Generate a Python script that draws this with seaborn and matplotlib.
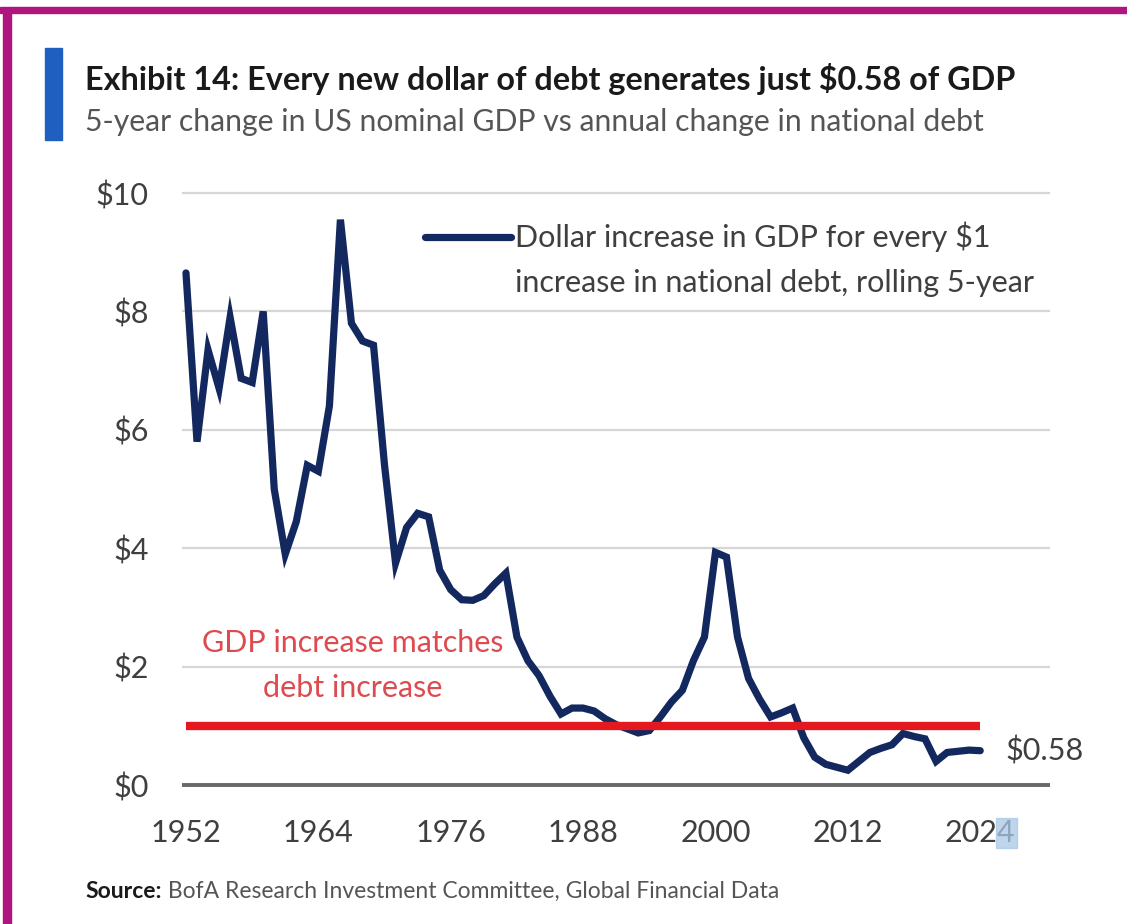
import matplotlib

matplotlib.use("Agg")

import matplotlib.pyplot as plt
import pandas as pd
import seaborn as sns
from matplotlib.lines import Line2D
from matplotlib.patches import Rectangle

# data
years = list(range(1952, 2025))
gdp_per_debt_dollar = [
    8.65, 5.80, 7.35, 6.70, 7.90, 6.87, 6.80, 8.00,
    5.00, 3.90, 4.45, 5.40, 5.30, 6.40, 9.55, 7.80, 7.50, 7.43,
    5.40, 3.75, 4.35, 4.59, 4.53, 3.63, 3.30, 3.13, 3.12, 3.20,
    3.40, 3.58, 2.50, 2.10, 1.85, 1.50, 1.20, 1.30, 1.30, 1.25,
    1.12, 1.02, 0.95, 0.88, 0.92, 1.15, 1.40, 1.60, 2.10, 2.50,
    3.93, 3.85, 2.50, 1.80, 1.45, 1.15, 1.22, 1.30, 0.80, 0.47,
    0.35, 0.30, 0.25, 0.40, 0.55, 0.62, 0.68, 0.87, 0.82, 0.78,
    0.40, 0.55, 0.57, 0.59, 0.58,
]
parity_level = 1.0
x_ticks = [1952, 1964, 1976, 1988, 2000, 2012, 2024]
y_ticks = [0, 2, 4, 6, 8, 10]
y_tick_labels = ["$0", "$2", "$4", "$6", "$8", "$10"]

title = "Exhibit 14: Every new dollar of debt generates just $0.58 of GDP"
subtitle = "5-year change in US nominal GDP vs annual change in national debt"
series_label_lines = [
    "Dollar increase in GDP for every $1",
    "increase in national debt, rolling 5-year",
]
parity_label = "GDP increase matches\ndebt increase"
end_label = "$0.58"
source_head = "Source:"
source_body = " BofA Research Investment Committee, Global Financial Data"

NAVY = "#13285f"
RED = "#e3191f"
RED_TEXT = "#dd4a4f"
GRID = "#d6d6d6"
TEXT = "#3f3f3f"

sns.set_theme(style="white")
plt.rcParams["font.family"] = ["Lato", "DejaVu Sans"]

df = pd.DataFrame({"year": years, "ratio": gdp_per_debt_dollar})

fig = plt.figure(figsize=(11.27, 9.24), dpi=100)
ax = fig.add_axes([0.1615, 0.1440, 0.7702, 0.6535])

sns.lineplot(
    data=df, x="year", y="ratio", ax=ax, color=NAVY, linewidth=5.2,
    zorder=3, solid_joinstyle="miter", legend=False,
)
ax.hlines(parity_level, years[0], years[-1], color=RED, linewidth=6, zorder=4)

ax.set_xlim(1951.64, 2030.33)
ax.set_ylim(-0.1, 10.1)
ax.set_xticks(x_ticks)
ax.set_yticks(y_ticks)
ax.set_yticklabels(y_tick_labels)
ax.set_xlabel("")
ax.set_ylabel("")
for y in y_ticks[1:]:
    ax.axhline(y, color=GRID, linewidth=1.6, zorder=1)
ax.axhline(0, color="#686868", linewidth=2.8, zorder=2)
sns.despine(ax=ax, left=True, bottom=True)
ax.tick_params(axis="y", length=0, pad=24, labelsize=22, labelcolor=TEXT)
ax.tick_params(axis="x", length=0, pad=20, labelsize=22, labelcolor=TEXT)

ax.text(1967.1, 2.02, parity_label, ha="center", va="center", fontsize=22,
        color=RED_TEXT, linespacing=1.72)
ax.annotate(end_label, xy=(years[-1], gdp_per_debt_dollar[-1]),
            xytext=(18, 0), textcoords="offset points", va="center",
            fontsize=22, color=TEXT)

# legend: handle sits level with the first label line
fig.add_artist(Line2D([0.377, 0.453], [0.7435, 0.7435], color=NAVY,
                      linewidth=5.2, solid_capstyle="round",
                      transform=fig.transFigure))
for i, line in enumerate(series_label_lines):
    fig.text(0.457, 0.7435 - i * 0.0498, line, fontsize=22, color=TEXT,
             va="center")

# highlight behind the last digit of 2024, as in the source image
fig.patches.append(Rectangle((0.884, 0.082), 0.018, 0.033,
                             transform=fig.transFigure, color="#a9c8e6",
                             alpha=0.75, zorder=0))

# header, source and frame
fig.text(0.0755, 0.9025, title, fontsize=23.3, fontweight="bold",
         color="#1a1a1a", va="baseline")
fig.text(0.0755, 0.858, subtitle, fontsize=21.7, color="#555555",
         va="baseline")
src = fig.text(0.0755, 0.028, source_head, fontsize=16.5, fontweight="bold",
               color="#1a1a1a", va="baseline")
ax.annotate(source_body, xy=(1, 0), xycoords=src, va="bottom", fontsize=16.5,
            color="#555555", annotation_clip=False)

fig.patches.append(Rectangle((0.040, 0.848), 0.015, 0.100,
                             transform=fig.transFigure, color="#1f5fc0"))
fig.patches.append(Rectangle((0.0, 0.986), 1.0, 0.0065,
                             transform=fig.transFigure, color="#b0157f"))
fig.patches.append(Rectangle((0.0027, 0.0), 0.0071, 0.99,
                             transform=fig.transFigure, color="#b0157f"))

fig.savefig("out.png", dpi=100)
